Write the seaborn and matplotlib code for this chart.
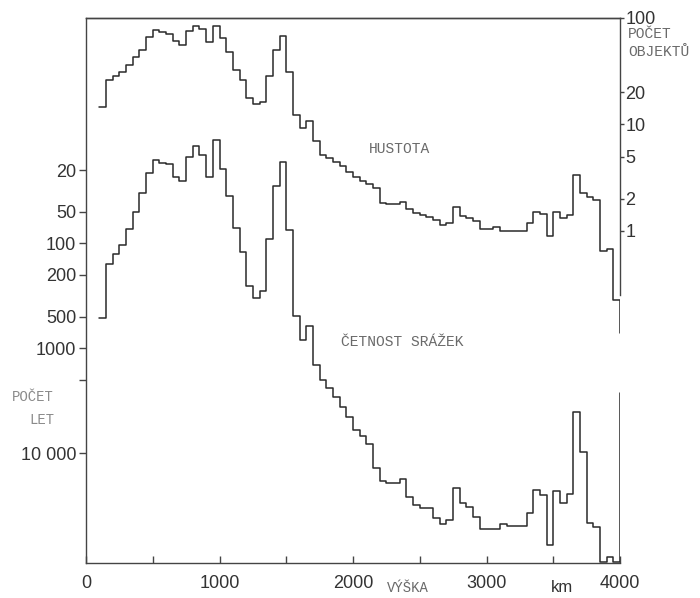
import numpy as np
import matplotlib
matplotlib.use("Agg")
import matplotlib.pyplot as plt
import seaborn as sns
from matplotlib.ticker import FixedLocator, FixedFormatter, NullLocator

# ---- data ----
bin_edges_km = np.arange(100, 4001, 50)          # 50 km altitude bins, 100 ... 4000 km

# HUSTOTA – number of objects (right axis, log)
hustota = [14.7, 26.2, 28.5, 31.3, 36.2, 42.8, 50.1, 65.9, 77.2, 74.4,
           70.3, 61.2, 55.7, 76.0, 84.1, 78.3, 59.9, 84.1, 64.5, 48.3,
           32.5, 26.2, 17.6, 15.6, 16.4, 28.5, 50.1, 67.8, 31.3, 12.4,
           9.37, 10.9, 7.0, 5.17, 4.81, 4.48, 4.08, 3.61, 3.24, 2.95,
           2.76, 2.52, 1.84, 1.81, 1.79, 1.88, 1.60, 1.49, 1.41, 1.36,
           1.27, 1.14, 1.18, 1.69, 1.38, 1.32, 1.24, 1.04, 1.04, 1.08,
           1.0, 1.0, 1.0, 1.0, 1.18, 1.50, 1.44, 0.90, 1.50, 1.32,
           1.41, 3.36, 2.26, 2.10, 1.95, 0.653, 0.673, 0.225]
hustota_end = 0.111

# ČETNOST SRÁŽEK – years between collisions (left axis, inverted log)
cetnost = [519, 158, 126, 104, 73.5, 50.0, 32.9, 21.5, 16.1, 17.3,
           17.6, 23.2, 25.5, 15.1, 11.7, 14.4, 23.2, 10.4, 19.7, 35.2,
           71.9, 120, 255, 334, 285, 91.5, 28.4, 16.7, 74.6, 496,
           835, 614, 1445, 2010, 2410, 2900, 3610, 4500, 6020, 6870,
           8190, 13960, 18300, 19100, 19100, 17800, 26000, 31200, 33100, 33100,
           41800, 47700, 43400, 21600, 30100, 32400, 40400, 53200, 53200, 53200,
           47400, 49500, 49500, 49500, 37500, 22500, 25100, 75200, 22800, 30100,
           24500, 4030, 9690, 46000, 50900, 108000, 97100, 108000]
cetnost_end = 2650

left_ticks = [20, 50, 100, 200, 500, 1000, 2000, 10000]
left_labels = ["20", "50", "100", "200", "500", "1000", "", "10 000"]
right_ticks = [1, 2, 5, 10, 20, 100]
right_labels = ["1", "2", "5", "10", "20", "100"]
x_major = [0, 1000, 2000, 3000, 4000]
x_minor = [500, 1500, 2500, 3500]

# ---- style ----
sns.set_style("ticks")
num_font = ["Liberation Sans Narrow", "Liberation Sans", "DejaVu Sans"]
mono_font = ["Liberation Mono", "DejaVu Sans Mono"]
plt.rcParams["font.family"] = num_font
ink = "#2a2a2a"
txt = "#333333"
faint = "#6a6a6a"

W, H = 700, 598
fig = plt.figure(figsize=(W / 100, H / 100), dpi=100)
ax = fig.add_axes([86 / W, 1 - 563 / H, (620 - 86) / W, (563 - 18) / H])
ax2 = ax.twinx()

x_line = list(bin_edges_km)
y_bottom = list(cetnost) + [cetnost_end]
y_top = list(hustota) + [hustota_end]

sns.lineplot(x=x_line, y=y_bottom, ax=ax, drawstyle="steps-post", color=ink,
             linewidth=1.1, estimator=None, sort=False)
sns.lineplot(x=x_line, y=y_top, ax=ax2, drawstyle="steps-post", color=ink,
             linewidth=1.1, estimator=None, sort=False)

# axes scales
ax.set_xlim(0, 4000)
ax.set_yscale("log")
ax.set_ylim(111500, 0.711)            # inverted: more years further down
ax2.set_yscale("log")
ax2.set_ylim(0.000763, 100)

for a in (ax, ax2):
    a.set_xlabel("")
    a.set_ylabel("")
    a.yaxis.set_minor_locator(NullLocator())
    for s in a.spines.values():
        s.set_color("#444444")
        s.set_linewidth(1.0)

ax.yaxis.set_major_locator(FixedLocator(left_ticks))
ax.yaxis.set_major_formatter(FixedFormatter(left_labels))
ax2.yaxis.set_major_locator(FixedLocator(right_ticks))
ax2.yaxis.set_major_formatter(FixedFormatter(right_labels))
ax.xaxis.set_major_locator(FixedLocator(x_major))
ax.xaxis.set_minor_locator(FixedLocator(x_minor))
ax.set_xticklabels([str(v) for v in x_major])

ax.tick_params(axis="y", direction="out", length=5, width=1, color="#444444",
               labelsize=13, labelcolor=txt, pad=2)
ax.tick_params(axis="x", which="both", direction="in", length=5, width=1,
               color="#444444", labelsize=13, labelcolor=txt, pad=9, top=False)
ax2.tick_params(axis="y", direction="out", length=3, width=1, color="#444444",
                labelsize=13, labelcolor=txt, pad=1)

ax.spines["right"].set_visible(False)
ax.spines["top"].set_visible(True)
ax2.spines["left"].set_visible(False)
ax2.spines["bottom"].set_visible(False)
ax2.spines["top"].set_visible(True)
ax2.spines["right"].set_visible(True)
ax2.spines["right"].set_bounds(0.25, 100)

# texts
def ftext(x, y, s, **kw):
    fig.text(x / W, 1 - y / H, s, **kw)

ftext(400, 149, "HUSTOTA", family=mono_font, fontsize=10.5, color=faint,
      ha="center", va="center")
ftext(402, 342, "ČETNOST SRÁŽEK", family=mono_font, fontsize=10.5, color=faint,
      ha="center", va="center")
ftext(628, 34, "POČET", family=mono_font, fontsize=10.5, color=faint,
      ha="left", va="center")
ftext(628, 52, "OBJEKTŮ", family=mono_font, fontsize=10.5, color=faint,
      ha="left", va="center")
ftext(33, 397, "POČET", family=mono_font, fontsize=10, color="#8a8a8a",
      ha="center", va="center")
ftext(42, 420, "LET", family=mono_font, fontsize=10, color="#8a8a8a",
      ha="center", va="center")
ftext(408, 588, "VÝŠKA", family=mono_font, fontsize=10, color=faint,
      ha="center", va="center")
ftext(562, 588, "km", family=num_font, fontsize=12, color=txt,
      ha="center", va="center")

fig.savefig("out.png", dpi=100)
